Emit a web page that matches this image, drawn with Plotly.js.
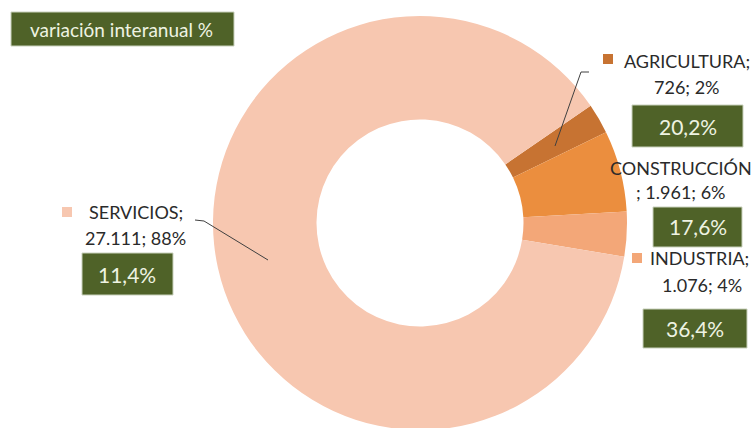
<!DOCTYPE html>
<html>
<head>
<meta charset="utf-8">
<script src="https://cdn.plot.ly/plotly-3.0.1.min.js"></script>
<style>
html,body{margin:0;padding:0;overflow:hidden;background:#fff;}
#chart{width:753px;height:440px;}
</style>
</head>
<body>
<div id="chart"></div>
<script>
// ---- data ----
var categories = ["AGRICULTURA", "CONSTRUCCIÓN", "INDUSTRIA", "SERVICIOS"];
var values = [726, 1961, 1076, 27111];
var shareLabels = ["2%", "6%", "4%", "88%"];
var variation = ["20,2%", "17,6%", "36,4%", "11,4%"];
var chartTitle = "variación interanual %";

// ---- style ----
var colors = ["#C77332", "#EB8E3E", "#F3A778", "#F7C7B0"];
var W = 753, H = 440;
var green = "#4F6228";
var boxText = "#EEF3E2";
var labelColor = "#2A2A2A";
var FONT = "Lato, 'Open Sans', sans-serif";

function fmt(n){ return String(n).replace(/\B(?=(\d{3})+(?!\d))/g, "."); }
function px(x){ return x / W; }
function py(y){ return 1 - y / H; }

var trace = {
  type: "pie",
  labels: categories,
  values: values,
  sort: false,
  direction: "clockwise",
  rotation: 55.5,
  hole: 0.5,
  marker: {colors: colors, line: {width: 0}},
  textinfo: "none",
  hoverinfo: "none",
  showlegend: false,
  domain: {x: [px(213), px(627)], y: [py(430), py(16)]}
};

var annotations = [];
var shapes = [];

function txt(t, x, y, size, color){
  annotations.push({xref:"paper", yref:"paper", x:px(x), y:py(y), text:t,
    showarrow:false, xanchor:"center", yanchor:"middle",
    font:{family:FONT, size:size, color:color}});
}
function box(x0, y0, x1, y1){
  shapes.push({type:"rect", xref:"paper", yref:"paper", x0:px(x0), x1:px(x1), y0:py(y1), y1:py(y0),
    fillcolor:green, line:{color:"#C9D1BC", width:1}, layer:"above"});
}
function square(x0, y0, x1, y1, c){
  shapes.push({type:"rect", xref:"paper", yref:"paper", x0:px(x0), x1:px(x1), y0:py(y1), y1:py(y0),
    fillcolor:c, line:{width:0}, layer:"above"});
}
function leader(pts){
  var d = pts.map(function(p, i){ return (i ? "L" : "M") + px(p[0]) + "," + py(p[1]); }).join(" ");
  shapes.push({type:"path", xref:"paper", yref:"paper", path:d, line:{color:"#404040", width:1}, layer:"above"});
}

// title box
box(11, 12, 234, 46);
txt(chartTitle, 121, 29, 19, boxText);

// AGRICULTURA
square(603, 54, 613, 64, colors[0]);
txt(categories[0] + ";", 687, 61, 18, labelColor);
txt(fmt(values[0]) + "; " + shareLabels[0], 687, 87, 18, labelColor);
box(632, 105, 743, 147);
txt(variation[0], 687.5, 126, 21, boxText);
leader([[589, 72], [581, 72], [555, 146]]);

// CONSTRUCCIÓN
txt(categories[1], 681, 168, 18, labelColor);
txt("; " + fmt(values[1]) + "; " + shareLabels[1], 681, 192, 18, labelColor);
box(653, 207, 742, 247);
txt(variation[1], 697.5, 227, 21, boxText);

// INDUSTRIA
square(632, 253, 642, 263, colors[2]);
txt(categories[2] + ";", 699, 258, 18, labelColor);
txt(fmt(values[2]) + "; " + shareLabels[2], 702, 285, 18, labelColor);
box(643, 309, 747, 348);
txt(variation[2], 695, 328.5, 21, boxText);

// SERVICIOS
square(62, 207, 72, 217, colors[3]);
txt(categories[3] + ";", 135.5, 212, 18, labelColor);
txt(fmt(values[3]) + "; " + shareLabels[3], 135.5, 238, 18, labelColor);
box(82, 253, 173, 295);
txt(variation[3], 127.5, 274, 21, boxText);
leader([[195, 220], [204, 221], [268, 260]]);

var layout = {
  width: W, height: H,
  margin: {l:0, r:0, t:0, b:0},
  paper_bgcolor: "#ffffff",
  plot_bgcolor: "#ffffff",
  showlegend: false,
  annotations: annotations,
  shapes: shapes
};

Plotly.newPlot("chart", [trace], layout, {staticPlot: true, displayModeBar: false});
</script>
</body>
</html>
